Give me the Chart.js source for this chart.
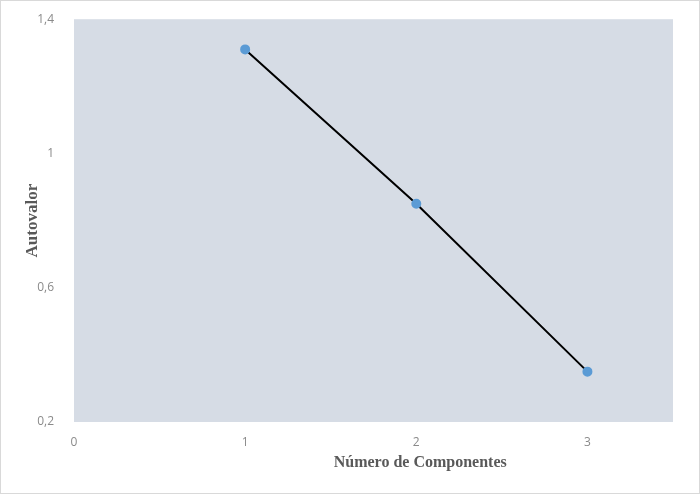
<!DOCTYPE html>
<html>
<head>
<meta charset="utf-8">
<script src="https://cdn.jsdelivr.net/npm/chart.js@4"></script>
<style>
  html, body { margin: 0; padding: 0; background: #fff; }
  #wrap { width: 700px; height: 494px; position: relative; }
</style>
</head>
<body>
<div id="wrap"><canvas id="chart"></canvas></div>
<script>
// data
const components = [1, 2, 3];
const eigenvalues = [1.31, 0.85, 0.35];
const yTicks = [0.2, 0.6, 1, 1.4];
const xTicks = [0, 1, 2, 3];
const xTitle = 'Número de Componentes';

const points = components.map((c, i) => ({ x: c, y: eigenvalues[i] }));

// grey plot area, thin frame, and the x title (sits right of centre in the original)
const plotBg = {
  id: 'plotBg',
  beforeDraw(chart) {
    const { ctx, chartArea: a } = chart;
    ctx.save();
    ctx.fillStyle = '#d6dce5';
    ctx.fillRect(a.left, a.top, a.right - a.left, a.bottom - a.top);
    ctx.strokeStyle = '#d9d9d9';
    ctx.lineWidth = 1;
    ctx.strokeRect(0.5, 0.5, chart.width - 1, chart.height - 1);
    ctx.restore();
  },
  afterDraw(chart) {
    const ctx = chart.ctx;
    ctx.save();
    ctx.fillStyle = '#595959';
    ctx.font = 'bold 16px "Liberation Serif"';
    ctx.textAlign = 'center';
    ctx.textBaseline = 'middle';
    ctx.fillText(xTitle, chart.chartArea.left + (chart.chartArea.right - chart.chartArea.left) * 0.578, 463);
    ctx.restore();
  }
};

const fmt = v => String(Math.round(v * 10) / 10).replace('.', ',');

new Chart(document.getElementById('chart'), {
  type: 'scatter',
  data: {
    datasets: [{
      data: points,
      showLine: true,
      borderColor: '#000000',
      borderWidth: 2,
      pointBackgroundColor: '#5b9bd5',
      pointBorderColor: '#5b9bd5',
      pointRadius: 4
    }]
  },
  options: {
    responsive: true,
    maintainAspectRatio: false,
    animation: false,
    layout: { padding: { top: 18, right: 27, left: 0, bottom: 0 } },
    plugins: { legend: { display: false }, tooltip: { enabled: false } },
    scales: {
      x: {
        type: 'linear',
        min: 0,
        max: 3.5,
        grid: { display: false },
        border: { display: false },
        afterFit: s => { s.height = 72; },
        afterBuildTicks: s => { s.ticks = xTicks.map(v => ({ value: v })); },
        ticks: {
          padding: 5,
          color: '#8a8a8a',
          font: { family: 'Open Sans', size: 12 },
          callback: v => fmt(v)
        },
        title: { display: false }
      },
      y: {
        min: 0.2,
        max: 1.4,
        grid: { display: false },
        border: { display: false },
        afterFit: s => { s.width = 74; },
        afterBuildTicks: s => { s.ticks = yTicks.map(v => ({ value: v })); },
        ticks: {
          padding: 12,
          color: '#8a8a8a',
          font: { family: 'Open Sans', size: 12 },
          callback: v => fmt(v)
        },
        title: {
          display: true,
          text: 'Autovalor',
          color: '#595959',
          font: { family: 'Liberation Serif', size: 17, weight: 'bold' },
          padding: { top: 22, bottom: 22 }
        }
      }
    }
  },
  plugins: [plotBg]
});
</script>
</body>
</html>
